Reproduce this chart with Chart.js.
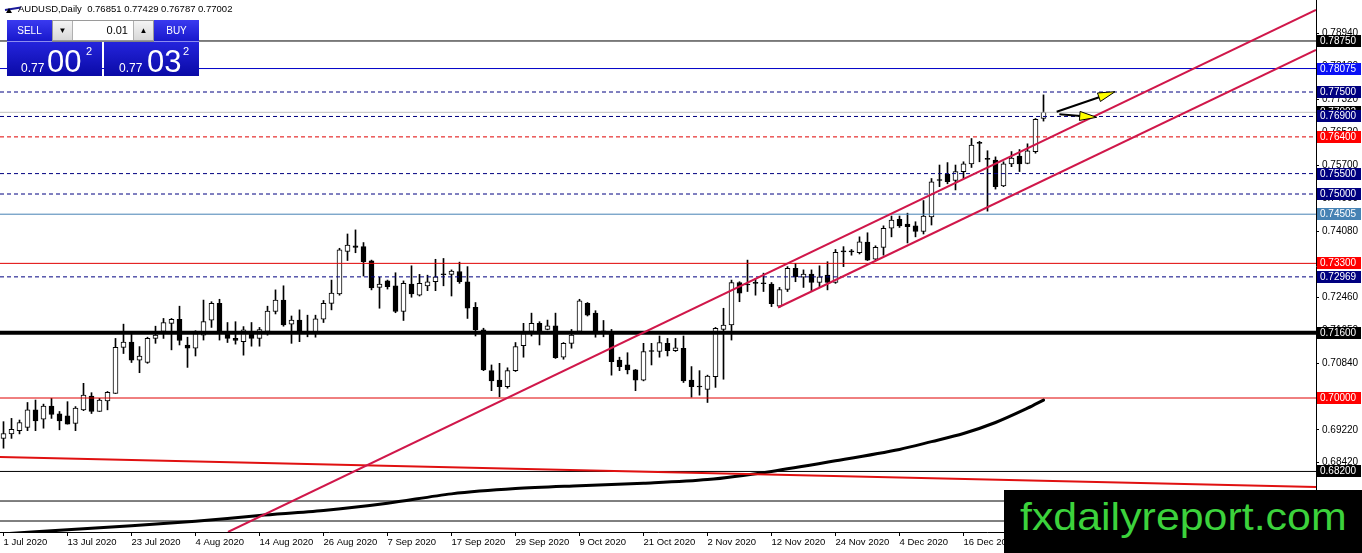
<!DOCTYPE html>
<html>
<head>
<meta charset="utf-8">
<script src="https://cdn.jsdelivr.net/npm/chart.js@4.4.1/dist/chart.umd.min.js"></script>
<style>
html,body{margin:0;padding:0;background:#fff;}
#wrap{position:relative;width:1362px;height:553px;overflow:hidden;font-family:"Liberation Sans",Arial,sans-serif;background:#fff;}
#c{position:absolute;left:0;top:0;}
.abs{position:absolute;}
#title{left:18px;top:4px;font-size:9.5px;line-height:10px;color:#000;white-space:pre;}
#tri{left:6px;top:8px;width:0;height:0;border-left:3px solid transparent;border-right:3px solid transparent;border-bottom:5px solid #000;}
#stroke{left:5px;top:9px;width:16px;height:2px;background:#1a1a9a;transform:rotate(-9deg);transform-origin:left center;}
.btn{color:#fff;font-size:10px;text-align:center;line-height:21px;background:linear-gradient(#3a3af0,#1818cc);border-bottom:1px solid #8c8cf0;box-sizing:border-box;}
.spin{background:#fff;border:1px solid #9a9a9a;box-sizing:border-box;}
.sb{position:absolute;top:0;width:19px;height:19px;background:linear-gradient(#f4f4f4,#d8d8d8);border-right:1px solid #b0b0b0;font-size:8px;line-height:19px;text-align:center;color:#000;}
.price{background:linear-gradient(#2424dc,#0a0aa6);color:#fff;}
.price span{position:absolute;white-space:pre;}
#wm{left:1004px;top:490px;width:358px;height:63px;background:#000;}
#wmt{position:absolute;left:16px;top:7px;font-size:39px;line-height:39px;color:#3cd23c;transform:scaleX(1.1);transform-origin:left center;white-space:pre;}
</style>
</head>
<body>
<div id="wrap">
<canvas id="c" width="1362" height="553"></canvas>

<div class="abs" id="stroke"></div>
<div class="abs" id="tri"></div>
<div class="abs" id="title">AUDUSD,Daily  0.76851 0.77429 0.76787 0.77002</div>

<div class="abs btn" style="left:7px;top:20px;width:45px;height:22px;">SELL</div>
<div class="abs spin" style="left:52px;top:20px;width:102px;height:21px;">
  <div class="sb" style="left:0;">&#9660;</div>
  <div class="abs" style="left:20px;top:0;width:55px;height:19px;font-size:11px;line-height:19px;text-align:right;color:#000;">0.01</div>
  <div class="sb" style="left:80px;border-left:1px solid #b0b0b0;border-right:none;">&#9650;</div>
</div>
<div class="abs btn" style="left:154px;top:20px;width:45px;height:22px;">BUY</div>

<div class="abs price" style="left:7px;top:42px;width:95px;height:34px;">
  <span style="left:14px;top:20px;font-size:12px;line-height:12px;">0.77</span>
  <span style="left:40px;top:4px;font-size:31px;line-height:31px;">00</span>
  <span style="left:79px;top:4px;font-size:11px;line-height:11px;">2</span>
</div>
<div class="abs price" style="left:104px;top:42px;width:95px;height:34px;">
  <span style="left:15px;top:20px;font-size:12px;line-height:12px;">0.77</span>
  <span style="left:43px;top:4px;font-size:31px;line-height:31px;">03</span>
  <span style="left:79px;top:4px;font-size:11px;line-height:11px;">2</span>
</div>

<div class="abs" id="wm"><div id="wmt">fxdailyreport.com</div></div>
</div>

<script>
// ---------------- DATA ----------------
const dateTickIdx = [0,8,16,24,32,40,48,56,64,72,80,88,96,104,112,120,128];
const dateLabels = ["1 Jul 2020","13 Jul 2020","23 Jul 2020","4 Aug 2020","14 Aug 2020","26 Aug 2020","7 Sep 2020","17 Sep 2020","29 Sep 2020","9 Oct 2020","21 Oct 2020","2 Nov 2020","12 Nov 2020","24 Nov 2020","4 Dec 2020","16 Dec 2020","29 Dec 2020"];

const opens = [
0.6901,0.6912,0.6920,0.6928,0.6971,0.6948,0.6980,0.6961,0.6956,0.6938,
0.6971,0.7005,0.6967,0.6993,0.7011,0.7124,0.7137,0.7093,0.7087,0.7146,
0.7163,0.7183,0.7193,0.7130,0.7122,0.7154,0.7191,0.7232,0.7160,0.7146,
0.7138,0.7160,0.7146,0.7163,0.7212,0.7240,0.7181,0.7191,0.7158,0.7158,
0.7193,0.7232,0.7255,0.7359,0.7373,0.7371,0.7336,0.7271,0.7287,0.7275,
0.7212,0.7279,0.7252,0.7275,0.7285,0.7304,0.7303,0.7310,0.7285,0.7222,
0.7167,0.7067,0.7044,0.7028,0.7067,0.7128,0.7163,0.7183,0.7168,0.7177,
0.7100,0.7134,0.7163,0.7232,0.7208,0.7163,0.7160,0.7093,0.7081,0.7069,
0.7044,0.7114,0.7114,0.7134,0.7116,0.7122,0.7044,0.7028,0.7021,0.7052,
0.7168,0.7179,0.7283,0.7277,0.7281,0.7281,0.7279,0.7225,0.7266,0.7318,
0.7296,0.7304,0.7283,0.7301,0.7283,0.7358,0.7358,0.7356,0.7382,0.7340,
0.7369,0.7416,0.7438,0.7426,0.7422,0.7408,0.7444,0.7533,0.7549,0.7533,
0.7555,0.7574,0.7624,0.7585,0.7583,0.7520,0.7574,0.7593,0.7575,0.7604,
0.76851];
const highs = [
0.6942,0.6950,0.6946,0.6989,0.6995,0.6985,0.6999,0.6967,0.6991,0.6979,
0.7036,0.7013,0.6999,0.7016,0.7146,0.7181,0.7158,0.7126,0.7149,0.7176,
0.7195,0.7195,0.7225,0.7149,0.7165,0.7240,0.7236,0.7242,0.7185,0.7187,
0.7175,0.7185,0.7173,0.7225,0.7265,0.7275,0.7201,0.7216,0.7203,0.7203,
0.7239,0.7289,0.7367,0.7402,0.7412,0.7381,0.7338,0.7296,0.7289,0.7307,
0.7287,0.7324,0.7303,0.7301,0.7340,0.7342,0.7314,0.7333,0.7322,0.7234,
0.7171,0.7081,0.7085,0.7074,0.7136,0.7183,0.7208,0.7187,0.7191,0.7208,
0.7136,0.7168,0.7242,0.7234,0.7214,0.7190,0.7168,0.7100,0.7111,0.7070,
0.7134,0.7134,0.7152,0.7146,0.7146,0.7152,0.7077,0.7067,0.7056,0.7173,
0.7220,0.7289,0.7285,0.7338,0.7293,0.7306,0.7283,0.7271,0.7322,0.7330,
0.7314,0.7314,0.7324,0.7334,0.7364,0.7371,0.7364,0.7395,0.7405,0.7373,
0.7422,0.7446,0.7446,0.7453,0.7432,0.7484,0.7538,0.7571,0.7577,0.7571,
0.7579,0.7636,0.7629,0.7606,0.7591,0.7579,0.7604,0.7609,0.7623,0.7685,
0.77429];
const lows = [
0.6877,0.6901,0.6912,0.6920,0.6920,0.6926,0.6950,0.6922,0.6936,0.6920,
0.6969,0.6962,0.6967,0.6971,0.7011,0.7109,0.7087,0.7062,0.7085,0.7134,
0.7146,0.7118,0.7130,0.7075,0.7103,0.7142,0.7173,0.7142,0.7136,0.7132,
0.7105,0.7127,0.7127,0.7154,0.7206,0.7176,0.7134,0.7138,0.7150,0.7149,
0.7185,0.7216,0.7252,0.7337,0.7356,0.7299,0.7265,0.7220,0.7267,0.7209,
0.7190,0.7247,0.7250,0.7263,0.7263,0.7275,0.7250,0.7281,0.7195,0.7152,
0.7067,0.7018,0.7003,0.7024,0.7065,0.7100,0.7152,0.7130,0.7167,0.7097,
0.7095,0.7122,0.7163,0.7201,0.7149,0.7150,0.7056,0.7067,0.7059,0.7018,
0.7042,0.7081,0.7100,0.7103,0.7114,0.7038,0.7002,0.7007,0.6989,0.7026,
0.7046,0.7142,0.7236,0.7261,0.7252,0.7261,0.7224,0.7222,0.7261,0.7285,
0.7271,0.7261,0.7273,0.7265,0.7281,0.7322,0.7350,0.7353,0.7337,0.7338,
0.7350,0.7395,0.7418,0.7380,0.7395,0.7402,0.7424,0.7518,0.7525,0.7510,
0.7538,0.7565,0.7579,0.7458,0.7512,0.7518,0.7567,0.7555,0.7574,0.7600,
0.76787];
const closes = [
0.6913,0.6923,0.6940,0.6971,0.6944,0.6980,0.6960,0.6944,0.6936,0.6975,
0.7007,0.6967,0.6995,0.7014,0.7124,0.7137,0.7093,0.7103,0.7146,0.7154,
0.7185,0.7193,0.7141,0.7122,0.7158,0.7187,0.7232,0.7160,0.7146,0.7141,
0.7167,0.7146,0.7168,0.7213,0.7240,0.7179,0.7191,0.7158,0.7160,0.7194,
0.7232,0.7257,0.7363,0.7375,0.7369,0.7334,0.7270,0.7279,0.7273,0.7212,
0.7281,0.7255,0.7281,0.7285,0.7297,0.7302,0.7311,0.7285,0.7220,0.7167,
0.7069,0.7042,0.7028,0.7067,0.7126,0.7158,0.7183,0.7163,0.7177,0.7099,
0.7134,0.7154,0.7238,0.7203,0.7163,0.7162,0.7089,0.7077,0.7069,0.7044,
0.7114,0.7115,0.7136,0.7116,0.7123,0.7042,0.7028,0.7027,0.7054,0.7171,
0.7179,0.7283,0.7257,0.7278,0.7282,0.7280,0.7231,0.7266,0.7318,0.7297,
0.7304,0.7283,0.7297,0.7283,0.7357,0.7359,0.7359,0.7383,0.7338,0.7369,
0.7416,0.7436,0.7422,0.7420,0.7408,0.7446,0.7530,0.7534,0.7530,0.7555,
0.7574,0.7620,0.7625,0.7586,0.7518,0.7574,0.7588,0.7574,0.7606,0.7683,
0.77002];

// 200-day moving average, read at sample bars
const maIdx = [0,8,16,24,32,40,48,56,64,72,80,88,96,104,112,116,120,124,128,130];
const maVal = [0.6667,0.6677,0.6687,0.6698,0.6712,0.6724,0.6742,0.6765,0.6778,0.6785,0.6791,0.6800,0.6820,0.6846,0.6874,0.6893,0.6913,0.6940,0.6975,0.6995];

// horizontal levels
const levelValues = [0.78750,0.78075,0.77500,0.77002,0.76900,0.76400,0.75500,0.75000,0.74505,0.73300,0.72969,0.71600,0.70000,0.68200,0.67475,0.66985];
const levelLabelled = [true,true,true,true,true,true,true,true,true,true,true,true,true,true,false,false];

// trend lines (bar index, price)
const trendStartIdx = [28.06, 96.81, -0.44];
const trendStartVal = [0.66716, 0.72218, 0.68554];
const trendEndIdx   = [164.06, 164.06, 164.06];
const trendEndVal   = [0.79510, 0.78529, 0.67819];

// arrows (bar index, price)
const arrowFromIdx = [131.65, 131.98];
const arrowFromVal = [0.77017, 0.76953];
const arrowToIdx   = [138.94, 136.65];
const arrowToVal   = [0.77507, 0.76880];

// right-axis price scale ticks
const yTickValues = [0.6842,0.6922,0.7003,0.7084,0.7165,0.7246,0.7327,0.7408,0.7490,0.7570,0.7652,0.7732,0.7813,0.7894];

// ---------------- STYLES ----------------
const NAVY = '#000080';
const levelStyle = [
  {c:'#000000', w:1, d:[],    box:'#000000'},
  {c:'#0000c8', w:1, d:[],    box:'#0a10f5'},
  {c:NAVY,      w:1, d:[4,3], box:NAVY},
  {c:'#c0c0c0', w:1, d:[],    box:'#000000'},
  {c:NAVY,      w:1, d:[4,3], box:NAVY},
  {c:'#e00000', w:1, d:[4,3], box:'#ff0000'},
  {c:NAVY,      w:1, d:[4,3], box:NAVY},
  {c:NAVY,      w:1, d:[4,3], box:NAVY},
  {c:'#4682b4', w:1, d:[],    box:'#4682b4'},
  {c:'#e00000', w:1, d:[],    box:'#ff0000'},
  {c:NAVY,      w:1, d:[4,3], box:NAVY},
  {c:'#000000', w:4, d:[],    box:'#000000'},
  {c:'#e00000', w:1, d:[],    box:'#ff0000'},
  {c:'#000000', w:1, d:[],    box:'#000000'},
  {c:'#000000', w:1, d:[],    box:'#000000'},
  {c:'#000000', w:1, d:[],    box:'#000000'}
];
const trendStyle = [
  {c:'#d0174a', w:2},
  {c:'#d0174a', w:2},
  {c:'#e01010', w:2}
];

const X_MIN = -0.4375, X_MAX = 164.0625;
const Y_MIN = 0.667157, Y_MAX = 0.797549;

// ---------------- BUILD ----------------
const bodyColors = opens.map((o,i)=>{
  const c = closes[i];
  if (Math.abs(c-o) < 0.00012) return '#000000';
  return c >= o ? '#ffffff' : '#000000';
});

const datasets = [];

// horizontal levels
levelValues.forEach((v,i)=>{
  const s = levelStyle[i];
  datasets.push({type:'line', data:[{x:X_MIN,y:v},{x:X_MAX,y:v}], borderColor:s.c, borderWidth:s.w, borderDash:s.d,
    pointRadius:0, fill:false, tension:0, order: i===3 ? 8 : 5});
});
// moving average
datasets.push({type:'line', data:maIdx.map((x,i)=>({x:x,y:maVal[i]})), borderColor:'#000', borderWidth:3,
  pointRadius:0, fill:false, tension:0.3, order:4, borderCapStyle:'round'});
// trend lines
trendStartIdx.forEach((x,i)=>{
  datasets.push({type:'line', data:[{x:x,y:trendStartVal[i]},{x:trendEndIdx[i],y:trendEndVal[i]}],
    borderColor:trendStyle[i].c, borderWidth:trendStyle[i].w, pointRadius:0, fill:false, tension:0, order:3});
});
// candle bodies
datasets.push({type:'bar', data:opens.map((o,i)=>({x:i,y:[o,closes[i]]})), backgroundColor:bodyColors,
  borderColor:'#000', borderWidth:1, borderSkipped:false, barThickness:5, minBarLength:1, grouped:false, order:19});
// candle wicks
datasets.push({type:'bar', data:lows.map((l,i)=>({x:i,y:[l,highs[i]]})), backgroundColor:'#000',
  borderWidth:0, barThickness:1, grouped:false, order:20});

const overlay = {
  id:'overlay',
  afterDatasetsDraw(chart){
    const ctx = chart.ctx, xs = chart.scales.x, ys = chart.scales.y;
    arrowFromIdx.forEach((fx,i)=>{
      const x1 = xs.getPixelForValue(fx), y1 = ys.getPixelForValue(arrowFromVal[i]);
      const x2 = xs.getPixelForValue(arrowToIdx[i]), y2 = ys.getPixelForValue(arrowToVal[i]);
      const ang = Math.atan2(y2-y1, x2-x1), head = 17, half = 4.5;
      const bx = x2 - head*Math.cos(ang), by = y2 - head*Math.sin(ang);
      ctx.save();
      ctx.strokeStyle = '#000'; ctx.lineWidth = 2;
      ctx.beginPath(); ctx.moveTo(x1,y1); ctx.lineTo(bx+4*Math.cos(ang),by+4*Math.sin(ang)); ctx.stroke();
      ctx.beginPath(); ctx.moveTo(x2,y2);
      ctx.lineTo(bx - half*Math.sin(ang), by + half*Math.cos(ang));
      ctx.lineTo(bx + half*Math.sin(ang), by - half*Math.cos(ang));
      ctx.closePath(); ctx.fillStyle = '#ffff00'; ctx.fill(); ctx.lineWidth = 1; ctx.stroke();
      ctx.restore();
    });
  },
  afterDraw(chart){
    const ctx = chart.ctx, ys = chart.scales.y;
    const left = chart.chartArea.right + 1;
    ctx.save();
    ctx.font = '10px "Liberation Sans", Arial, sans-serif';
    ctx.textBaseline = 'middle';
    ctx.textAlign = 'left';
    levelValues.forEach((v,i)=>{
      if (!levelLabelled[i]) return;
      const py = Math.round(ys.getPixelForValue(v));
      ctx.fillStyle = levelStyle[i].box;
      ctx.fillRect(left, py-6, 44, 12);
      ctx.fillStyle = '#fff';
      ctx.fillText(v.toFixed(5), left+3, py+0.5);
    });
    ctx.restore();
  }
};

new Chart(document.getElementById('c'), {
  type:'bar',
  data:{datasets:datasets},
  options:{
    responsive:false, animation:false, events:[],
    layout:{padding:0},
    plugins:{legend:{display:false}, tooltip:{enabled:false}, title:{display:false}},
    scales:{
      x:{
        type:'linear', min:X_MIN, max:X_MAX, offset:false, position:'bottom',
        grid:{display:true, drawOnChartArea:false, drawTicks:true, tickLength:4, color:'#000', offset:false},
        border:{display:true, color:'#000', width:1},
        ticks:{autoSkip:false, maxRotation:0, minRotation:0, align:'start', padding:1, color:'#000',
          font:{family:'"Liberation Sans", Arial, sans-serif', size:9.5},
          callback:(v,i)=>dateLabels[i]},
        afterBuildTicks:(s)=>{ s.ticks = dateTickIdx.map(v=>({value:v})); },
        afterFit:(s)=>{ s.height = 21; s.paddingLeft = 0; s.paddingRight = 0; }
      },
      y:{
        type:'linear', position:'right', min:Y_MIN, max:Y_MAX,
        grid:{display:true, drawOnChartArea:false, drawTicks:true, tickLength:3, color:'#000'},
        border:{display:true, color:'#000', width:1},
        ticks:{padding:3, color:'#000', font:{family:'"Liberation Sans", Arial, sans-serif', size:10},
          callback:(v)=>Number(v).toFixed(5)},
        afterBuildTicks:(s)=>{ s.ticks = yTickValues.map(v=>({value:v})); },
        afterFit:(s)=>{ s.width = 46; s.paddingTop = 0; s.paddingBottom = 0; }
      }
    }
  },
  plugins:[overlay]
});
</script>
</body>
</html>
